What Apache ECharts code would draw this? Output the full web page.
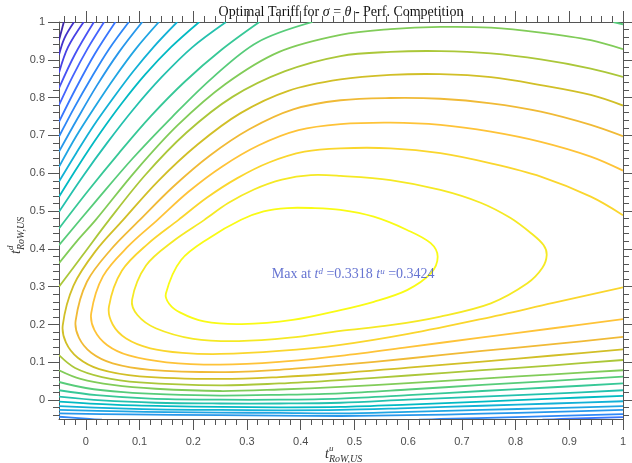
<!DOCTYPE html>
<html><head><meta charset="utf-8">
<script src="https://cdn.jsdelivr.net/npm/echarts@6/dist/echarts.min.js"></script>
<style>html,body{margin:0;padding:0;background:#fff}#c{width:632px;height:463px}</style>
</head><body><div id="c"></div>
<script>
// ================= DATA =================
const xRange = [-0.05, 1];
const yRange = [-0.05, 1];
const xTickValues = [0, 0.1, 0.2, 0.3, 0.4, 0.5, 0.6, 0.7, 0.8, 0.9, 1];
const yTickValues = [0, 0.1, 0.2, 0.3, 0.4, 0.5, 0.6, 0.7, 0.8, 0.9, 1];
const maxTu = 0.3424;
const maxTd = 0.3318;
const titleParts = ['Optimal Tariff for ', 'σ', ' = ', 'θ', ' - Perf. Competition'];
const axisSymbol = 't';
const xSup = 'u', ySup = 'd', axisSub = 'RoW,US';

// contour pieces, [t^u, t^d]; level 21 = highest (innermost)
const c01 = [[0.29,0.201],[0.385,0.212],[0.474,0.238],[0.536,0.260],[0.598,0.291],[0.642,0.335],[0.655,0.379],[0.642,0.415],[0.598,0.450],[0.536,0.485],[0.474,0.503],[0.420,0.508],[0.375,0.508],[0.331,0.499],[0.289,0.477],[0.230,0.429],[0.177,0.370],[0.149,0.282],[0.155,0.255],[0.175,0.232],[0.22,0.208]];
const c02 = [[0.285,0.156],[0.38,0.165],[0.474,0.183],[0.567,0.198],[0.660,0.221],[0.754,0.256],[0.822,0.309],[0.850,0.350],[0.858,0.384],[0.852,0.410],[0.830,0.440],[0.790,0.482],[0.735,0.522],[0.660,0.556],[0.567,0.582],[0.474,0.593],[0.419,0.595],[0.365,0.583],[0.313,0.557],[0.265,0.521],[0.22,0.476],[0.163,0.421],[0.112,0.356],[0.086,0.265],[0.096,0.225],[0.13,0.19],[0.20,0.162]];
const c03 = [[1.0,0.489],[0.940,0.538],[0.847,0.591],[0.754,0.626],[0.660,0.653],[0.567,0.666],[0.474,0.666],[0.407,0.657],[0.342,0.629],[0.282,0.587],[0.225,0.535],[0.172,0.476],[0.116,0.414],[0.067,0.342],[0.043,0.247],[0.050,0.200],[0.075,0.163],[0.120,0.137],[0.180,0.125],[0.250,0.122],[0.360,0.130],[0.474,0.146],[0.600,0.175],[0.738,0.215],[0.870,0.257],[1.0,0.298]];
const c04 = [[1.0,0.607],[0.940,0.644],[0.847,0.683],[0.754,0.710],[0.660,0.728],[0.567,0.734],[0.474,0.730],[0.396,0.714],[0.322,0.674],[0.254,0.618],[0.191,0.551],[0.133,0.476],[0.079,0.407],[0.032,0.328],[0.010,0.230],[0.016,0.185],[0.040,0.145],[0.080,0.118],[0.150,0.100],[0.250,0.094],[0.360,0.101],[0.474,0.117],[0.600,0.140],[0.738,0.166],[0.870,0.190],[1.0,0.214]];
const c05 = [[1.0,0.698],[0.940,0.728],[0.847,0.763],[0.754,0.785],[0.660,0.797],[0.567,0.799],[0.474,0.793],[0.386,0.769],[0.305,0.717],[0.231,0.647],[0.163,0.565],[0.100,0.476],[0.047,0.399],[0.002,0.313],[-0.019,0.210],[-0.013,0.165],[0.010,0.125],[0.050,0.097],[0.120,0.080],[0.250,0.074],[0.360,0.080],[0.474,0.093],[0.600,0.110],[0.738,0.130],[0.870,0.148],[1.0,0.167]];
const c06 = [[1.0,0.779],[0.940,0.807],[0.847,0.833],[0.754,0.854],[0.660,0.862],[0.567,0.860],[0.474,0.848],[0.377,0.818],[0.288,0.759],[0.208,0.676],[0.135,0.580],[0.069,0.476],[0.018,0.394],[-0.023,0.303],[-0.043,0.198],[-0.037,0.152],[-0.015,0.112],[0.025,0.082],[0.100,0.063],[0.250,0.056],[0.360,0.061],[0.474,0.071],[0.600,0.086],[0.738,0.102],[0.870,0.118],[1.0,0.134]];
const c07Upper = [[-0.05,0.300],[-0.005,0.385],[0.043,0.476],[0.111,0.596],[0.187,0.707],[0.273,0.802],[0.371,0.870],[0.474,0.910],[0.567,0.921],[0.660,0.923],[0.754,0.917],[0.847,0.901],[0.940,0.877],[1.0,0.855]];
const c07Lower = [[-0.05,0.119],[-0.02,0.085],[0.03,0.061],[0.10,0.047],[0.25,0.039],[0.36,0.044],[0.474,0.053],[0.600,0.065],[0.738,0.079],[0.870,0.092],[1.0,0.106]];
const c08Upper = [[-0.05,0.362],[-0.017,0.420],[0.018,0.476],[0.092,0.605],[0.171,0.727],[0.260,0.836],[0.360,0.921],[0.474,0.966],[0.567,0.981],[0.660,0.987],[0.754,0.985],[0.847,0.972],[0.940,0.952],[1.0,0.928]];
const c08Lower = [[-0.05,0.079],[-0.01,0.056],[0.05,0.040],[0.13,0.030],[0.25,0.024],[0.36,0.028],[0.474,0.035],[0.600,0.045],[0.738,0.057],[0.870,0.068],[1.0,0.079]];
const c09Upper = [[-0.05,0.410],[0.018,0.525],[0.087,0.639],[0.160,0.748],[0.236,0.853],[0.319,0.946],[0.422,1.0]];
const c09Corner = [[0.982,1.0],[1.0,0.994]];
const c09Lower = [[-0.05,0.048],[0.0,0.032],[0.07,0.021],[0.15,0.015],[0.25,0.012],[0.36,0.014],[0.474,0.018],[0.600,0.028],[0.738,0.040],[0.870,0.051],[1.0,0.062]];
const c10Upper = [[-0.05,0.454],[0.005,0.555],[0.062,0.654],[0.121,0.751],[0.184,0.842],[0.252,0.926],[0.323,1.0]];
const c10Lower = [[-0.05,0.026],[0.02,0.013],[0.12,0.004],[0.25,0.001],[0.36,0.001],[0.474,0.004],[0.600,0.013],[0.738,0.024],[0.870,0.034],[1.0,0.044]];
const c11Upper = [[-0.05,0.498],[-0.006,0.591],[0.040,0.681],[0.089,0.770],[0.141,0.854],[0.198,0.933],[0.261,1.0]];
const c11Lower = [[-0.05,0.009],[0.03,-0.001],[0.13,-0.007],[0.25,-0.009],[0.36,-0.009],[0.474,-0.007],[0.600,0.001],[0.738,0.009],[0.870,0.017],[1.0,0.026]];
const c12Upper = [[-0.05,0.538],[-0.013,0.622],[0.026,0.705],[0.067,0.785],[0.111,0.862],[0.159,0.934],[0.211,1.0]];
const c12Lower = [[-0.05,-0.004],[0.05,-0.012],[0.15,-0.016],[0.25,-0.018],[0.36,-0.019],[0.474,-0.018],[0.600,-0.012],[0.738,-0.004],[0.870,0.004],[1.0,0.011]];
const c13Upper = [[-0.05,0.578],[-0.018,0.653],[0.015,0.727],[0.051,0.799],[0.088,0.869],[0.128,0.937],[0.170,1.0]];
const c13Lower = [[-0.05,-0.016],[0.06,-0.022],[0.15,-0.025],[0.25,-0.026],[0.36,-0.027],[0.474,-0.026],[0.600,-0.021],[0.738,-0.015],[0.870,-0.009],[1.0,-0.003]];
const c14Upper = [[-0.05,0.617],[-0.018,0.698],[0.017,0.776],[0.054,0.854],[0.093,0.929],[0.136,1.0]];
const c14Lower = [[-0.05,-0.026],[0.07,-0.030],[0.15,-0.032],[0.25,-0.033],[0.36,-0.034],[0.474,-0.035],[0.600,-0.031],[0.738,-0.026],[0.870,-0.021],[1.0,-0.016]];
const c15Upper = [[-0.05,0.657],[-0.015,0.746],[0.021,0.833],[0.061,0.919],[0.105,1.0]];
const c15Lower = [[-0.05,-0.035],[0.08,-0.038],[0.25,-0.040],[0.36,-0.041],[0.474,-0.042],[0.600,-0.040],[0.738,-0.036],[0.870,-0.031],[1.0,-0.026]];
const c16Upper = [[-0.05,0.697],[-0.021,0.775],[0.010,0.852],[0.043,0.928],[0.080,1.0]];
const c16LowerLeft = [[-0.05,-0.044],[-0.02,-0.047],[0.007,-0.05],[0.03,-0.052]];
const c16LowerRight = [[0.62,-0.052],[0.66,-0.05],[0.80,-0.045],[1.0,-0.037]];
const c17Upper = [[-0.05,0.736],[-0.018,0.826],[0.016,0.914],[0.055,1.0]];
const c17Lower = [[0.85,-0.052],[0.885,-0.05],[1.0,-0.045]];
const c18 = [[-0.05,0.780],[-0.025,0.855],[0.003,0.929],[0.034,1.0]];
const c19 = [[-0.05,0.825],[-0.0205,0.914],[0.015,1.0]];
const c20 = [[-0.05,0.866],[-0.033,0.934],[-0.004,1.0]];
const c21 = [[-0.05,0.913],[-0.040,0.957],[-0.022,1.0]];
const c22 = [[-0.05,0.952],[-0.041,1.0]];

// [level, points, closed]
const pieces = [
  [21, c01, true], [20, c02, true], [19, c03], [18, c04], [17, c05], [16, c06],
  [15, c07Upper], [15, c07Lower], [14, c08Upper], [14, c08Lower],
  [13, c09Upper], [13, c09Corner], [13, c09Lower],
  [12, c10Upper], [12, c10Lower], [11, c11Upper], [11, c11Lower],
  [10, c12Upper], [10, c12Lower], [9, c13Upper], [9, c13Lower],
  [8, c14Upper], [8, c14Lower], [7, c15Upper], [7, c15Lower],
  [6, c16Upper], [6, c16LowerLeft], [6, c16LowerRight],
  [5, c17Upper], [5, c17Lower], [4, c18], [3, c19], [2, c20], [1, c21], [0, c22]
];
const nLevels = 22;

// ================= STYLE =================
const parula = [[0.2422,0.1504,0.6603],[0.2504,0.1650,0.7076],[0.2578,0.1818,0.7511],[0.2647,0.1978,0.7952],[0.2706,0.2147,0.8364],[0.2751,0.2342,0.8710],[0.2783,0.2559,0.8991],[0.2803,0.2782,0.9221],[0.2813,0.3006,0.9414],[0.2810,0.3228,0.9579],[0.2795,0.3447,0.9717],[0.2760,0.3667,0.9829],[0.2699,0.3892,0.9906],[0.2602,0.4123,0.9952],[0.2440,0.4358,0.9988],[0.2206,0.4603,0.9973],[0.1963,0.4847,0.9892],[0.1834,0.5074,0.9798],[0.1786,0.5289,0.9682],[0.1764,0.5499,0.9520],[0.1687,0.5703,0.9359],[0.1540,0.5902,0.9218],[0.1460,0.6091,0.9079],[0.1380,0.6276,0.8973],[0.1248,0.6459,0.8883],[0.1113,0.6635,0.8763],[0.0952,0.6798,0.8598],[0.0689,0.6948,0.8394],[0.0297,0.7082,0.8163],[0.0036,0.7203,0.7917],[0.0067,0.7312,0.7660],[0.0433,0.7411,0.7394],[0.0964,0.7500,0.7120],[0.1408,0.7584,0.6842],[0.1717,0.7670,0.6554],[0.1938,0.7758,0.6251],[0.2161,0.7843,0.5923],[0.2470,0.7918,0.5567],[0.2906,0.7973,0.5188],[0.3406,0.8008,0.4789],[0.3909,0.8029,0.4354],[0.4456,0.8024,0.3909],[0.5044,0.7993,0.3480],[0.5616,0.7942,0.3045],[0.6174,0.7876,0.2612],[0.6720,0.7793,0.2227],[0.7242,0.7698,0.1910],[0.7738,0.7598,0.1646],[0.8203,0.7498,0.1535],[0.8634,0.7406,0.1596],[0.9035,0.7330,0.1774],[0.9393,0.7288,0.2100],[0.9728,0.7298,0.2394],[0.9956,0.7434,0.2371],[0.9970,0.7659,0.2199],[0.9952,0.7893,0.2028],[0.9892,0.8136,0.1885],[0.9786,0.8386,0.1766],[0.9676,0.8639,0.1643],[0.9610,0.8890,0.1537],[0.9597,0.9135,0.1423],[0.9628,0.9373,0.1265],[0.9691,0.9606,0.1064],[0.9769,0.9839,0.0805]];
function levelColor(L) {
  const t = L / (nLevels - 1) * 63;
  const i = Math.floor(t), f = t - i;
  const a = parula[i], b = parula[Math.min(63, i + 1)];
  const c = a.map((v, k) => Math.round(255 * (v + (b[k] - v) * f)));
  return 'rgb(' + c.join(',') + ')';
}
function minorTicks(lo, hi) {
  const out = [];
  for (let k = Math.ceil(lo / 0.02 - 1e-9); k <= Math.floor(hi / 0.02 + 1e-9); k++) {
    if (k % 5 !== 0) out.push(Math.round(k * 2) / 100);
  }
  return out;
}
const xMinor = minorTicks(xRange[0], xRange[1]);
const yMinor = minorTicks(yRange[0], yRange[1]);

const AX = '#555';
const sans = 'Liberation Sans, Arial, Helvetica, sans-serif';
const serif = 'Liberation Serif, Times New Roman, serif';
const gridPos = {left: 59, right: 9, top: 22, bottom: 44};

function majorAxis(kind, grid, pos, vals, labels) {
  return {
    type: 'value', gridIndex: grid, position: pos,
    min: kind === 'x' ? xRange[0] : yRange[0], max: kind === 'x' ? xRange[1] : yRange[1],
    axisLine: {show: true, onZero: false, lineStyle: {color: AX, width: 1}},
    axisTick: {show: true, inside: false, length: 11, customValues: vals, lineStyle: {color: AX, width: 1}},
    axisLabel: labels ? {show: true, customValues: vals, color: '#4d4d4d', fontSize: 11, fontFamily: sans,
      margin: kind === 'x' ? 17 : 14} : {show: false},
    splitLine: {show: false}, minorTick: {show: false}
  };
}
function minorAxis(kind, grid, pos, vals) {
  return {
    type: 'value', gridIndex: grid, position: pos,
    min: kind === 'x' ? xRange[0] : yRange[0], max: kind === 'x' ? xRange[1] : yRange[1],
    axisLine: {show: false, onZero: false},
    axisTick: {show: true, inside: false, length: 6, customValues: vals, lineStyle: {color: AX, width: 1}},
    axisLabel: {show: false}, splitLine: {show: false}
  };
}

function contourSeries(L, pts, closed) {
  const color = levelColor(L);
  return {
    type: 'custom', xAxisIndex: 0, yAxisIndex: 0, data: pts, silent: true, z: 2,
    encode: {x: 0, y: 1},
    renderItem: function (params, api) {
      if (params.dataIndex !== 0) return null;
      const cs = params.coordSys;
      const points = pts.map(p => api.coord(p));
      return {
        type: closed ? 'polygon' : 'polyline',
        shape: {points: points, smooth: 0.34},
        style: {stroke: color, lineWidth: 1.8, fill: 'none'},
        clipPath: {type: 'rect', shape: {x: cs.x, y: cs.y, width: cs.width, height: cs.height}}
      };
    }
  };
}

const series = pieces.map(([L, d, closed]) => contourSeries(L, d, !!closed));
series.push({
  type: 'scatter', xAxisIndex: 0, yAxisIndex: 0, data: [[maxTu, maxTd]],
  symbolSize: 0, silent: true, z: 5,
  label: {
    show: true, position: 'right', distance: 2,
    formatter: 'Max at {it|' + axisSymbol + '}{sup|' + ySup + '} =' + maxTd.toFixed(4) + ' {it|' + axisSymbol + '}{sup|' + xSup + '} =' + maxTu.toFixed(4),
    color: '#3f50c6', fontFamily: serif, fontSize: 14, lineHeight: 16,
    rich: {
      it: {fontStyle: 'italic', fontFamily: serif, fontSize: 14, color: '#3f50c6'},
      sup: {fontStyle: 'italic', fontFamily: serif, fontSize: 9, color: '#3f50c6', verticalAlign: 'top', lineHeight: 16}
    }
  }
});

const titleRich = '{n|' + titleParts[0] + '}{i|' + titleParts[1] + '}{n|' + titleParts[2] + '}{i|' + titleParts[3] + '}{n|' + titleParts[4] + '}';

const option = {
  animation: false,
  backgroundColor: '#fff',
  grid: [Object.assign({}, gridPos), Object.assign({}, gridPos)],
  xAxis: [
    majorAxis('x', 0, 'bottom', xTickValues, true),
    majorAxis('x', 0, 'top', xTickValues, false),
    minorAxis('x', 1, 'bottom', xMinor),
    minorAxis('x', 1, 'top', xMinor)
  ],
  yAxis: [
    majorAxis('y', 0, 'left', yTickValues, true),
    majorAxis('y', 0, 'right', yTickValues, false),
    minorAxis('y', 1, 'left', yMinor),
    minorAxis('y', 1, 'right', yMinor)
  ],
  series: series,
  graphic: [
    {type: 'text', x: 341, y: 12, z: 10, style: {
      text: titleRich, align: 'center', verticalAlign: 'middle', fill: '#111',
      rich: {
        n: {fontFamily: serif, fontSize: 14, fill: '#111'},
        i: {fontFamily: serif, fontSize: 14, fontStyle: 'italic', fill: '#111'}
      }
    }},
    {type: 'group', x: 329, y: 454, children: [
      {type: 'text', x: 0, y: 0, style: {text: axisSymbol, font: 'italic 14px ' + serif, fill: '#333', align: 'right', verticalAlign: 'middle'}},
      {type: 'text', x: 0, y: -5, style: {text: xSup, font: 'italic 9px ' + serif, fill: '#333', align: 'left', verticalAlign: 'middle'}},
      {type: 'text', x: 0, y: 5, style: {text: axisSub, font: 'italic 10px ' + serif, fill: '#333', align: 'left', verticalAlign: 'middle'}}
    ]},
    {type: 'group', x: 16, y: 250, rotation: Math.PI / 2, children: [
      {type: 'text', x: 0, y: 0, style: {text: axisSymbol, font: 'italic 14px ' + serif, fill: '#333', align: 'right', verticalAlign: 'middle'}},
      {type: 'text', x: 0, y: -5, style: {text: ySup, font: 'italic 9px ' + serif, fill: '#333', align: 'left', verticalAlign: 'middle'}},
      {type: 'text', x: 0, y: 5, style: {text: axisSub, font: 'italic 10px ' + serif, fill: '#333', align: 'left', verticalAlign: 'middle'}}
    ]}
  ]
};
const chart = echarts.init(document.getElementById('c'), null, {renderer: 'canvas'});
chart.setOption(option);
</script>
</body></html>
